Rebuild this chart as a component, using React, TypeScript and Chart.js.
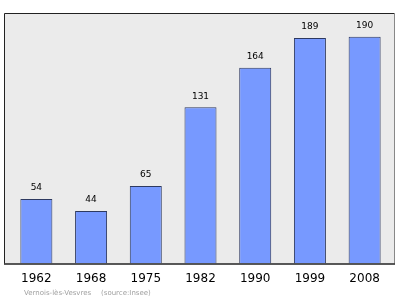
import React, { useEffect, useRef } from "react";
import { Chart, registerables } from "chart.js";

Chart.register(...registerables);

const years = ["1962", "1968", "1975", "1982", "1990", "1999", "2008"];
const population = [54, 44, 65, 131, 164, 189, 190];
const footerPlace = "Vernois-lès-Vesvres";
const footerSource = "(source:Insee)";

const framePlugin = {
  id: "frame",
  beforeDraw(chart: any) {
    const { ctx, chartArea } = chart;
    const l = chartArea.left - 5;
    const r = chartArea.right + 3;
    const t = chartArea.top;
    const b = chartArea.bottom;
    ctx.save();
    ctx.fillStyle = "#ebebeb";
    ctx.fillRect(l, t, r - l, b - t);
    ctx.lineWidth = 1;
    ctx.strokeStyle = "#222222";
    ctx.beginPath();
    ctx.moveTo(l + 0.5, b);
    ctx.lineTo(l + 0.5, t + 0.5);
    ctx.lineTo(r, t + 0.5);
    ctx.stroke();
    ctx.strokeStyle = "#888888";
    ctx.beginPath();
    ctx.moveTo(r - 0.5, t);
    ctx.lineTo(r - 0.5, b);
    ctx.stroke();
    ctx.restore();
  },
  afterDatasetsDraw(chart: any) {
    const { ctx, chartArea } = chart;
    const l = chartArea.left - 5;
    const r = chartArea.right + 3;
    ctx.save();
    ctx.strokeStyle = "#222222";
    ctx.lineWidth = 1.5;
    ctx.beginPath();
    ctx.moveTo(l, chartArea.bottom + 0.5);
    ctx.lineTo(r, chartArea.bottom + 0.5);
    ctx.stroke();
    // value labels
    const meta = chart.getDatasetMeta(0);
    ctx.fillStyle = "#000000";
    ctx.font = "9px 'DejaVu Sans'";
    ctx.textAlign = "center";
    ctx.textBaseline = "middle";
    meta.data.forEach((el: any, i: number) => {
      ctx.fillText(String(population[i]), el.x, el.y - 11);
    });
    // footer
    ctx.fillStyle = "#a0a0a0";
    ctx.font = "7px 'DejaVu Sans'";
    ctx.textAlign = "left";
    ctx.fillText(footerPlace, 24, 293);
    ctx.fillText(footerSource, 101, 293);
    ctx.restore();
  },
};

export default function App() {
  const ref = useRef<HTMLCanvasElement>(null);
  useEffect(() => {
    document.body.style.margin = "0";
    const chart = new Chart(ref.current!, {
      type: "bar",
      data: {
        labels: years,
        datasets: [
          {
            data: population,
            backgroundColor: "#7799ff",
            borderColor: "#2d3960",
            borderWidth: 1,
            barPercentage: 0.585,
            categoryPercentage: 1,
          },
        ],
      },
      options: {
        responsive: false,
        animation: false,
        layout: { padding: { left: 9, right: 8, top: 13, bottom: 0 } },
        plugins: { legend: { display: false }, tooltip: { enabled: false } },
        scales: {
          y: { display: false, min: 0, max: 210 },
          x: {
            grid: { display: false, drawTicks: false },
            border: { display: false },
            ticks: {
              color: "#000000",
              font: { family: "'DejaVu Sans'", size: 12 },
              padding: 8,
              maxRotation: 0,
            },
            afterFit(scale: any) {
              scale.height = 35.5;
            },
          },
        },
      },
      plugins: [framePlugin],
    });
    return () => chart.destroy();
  }, []);
  return (
    <div style={{ position: "absolute", left: 0, top: 0, width: 400, height: 299 }}>
      <canvas ref={ref} width={400} height={299} />
    </div>
  );
}
